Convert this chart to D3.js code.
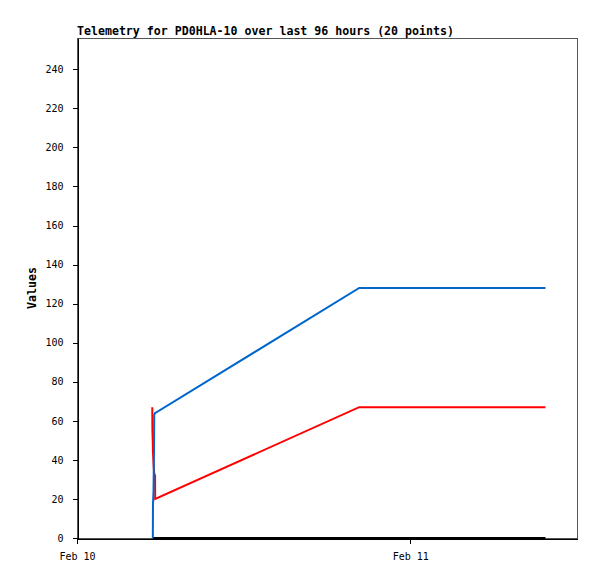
<!DOCTYPE html>
<html>
<head>
<meta charset="utf-8">
<script src="https://cdn.jsdelivr.net/npm/d3@7"></script>
<style>
  body { margin: 0; background: #fff; }
  svg { display: block; }
  .axis text { font-family: "DejaVu Sans Mono", monospace; font-size: 10px; fill: #000; }
  .axis path, .axis line { stroke: #000; shape-rendering: crispEdges; }
  .title { font-family: "DejaVu Sans Mono", monospace; font-size: 11.6px; font-weight: bold; }
  .ylabel { font-family: "DejaVu Sans Mono", monospace; font-size: 11.6px; font-weight: bold; }
</style>
</head>
<body>
<div class="graphic-wrapper"></div>
<script>
// hours since Feb 10 00:00 (UTC) for each telemetry point
let hours = [5.42, 5.43, 5.46, 5.47, 5.51, 5.55, 5.56, 5.62, 5.63, 20.32,
             22.0, 23.5, 25.0, 26.5, 28.0, 29.5, 31.0, 32.3, 33.2, 33.73];
let blueValues = [null, null, 0, 17, 24, 50, 63, 64, 64, 128,
                  128, 128, 128, 128, 128, 128, 128, 128, 128, 128];
let redValues = [67, 55, 48, 44, 38, 34, 33, 32, 20, 67,
                 67, 67, 67, 67, 67, 67, 67, 67, 67, 67];
let blackValues = [null, null, null, 0, 0, 0, 0, 0, 0, 0,
                   0, 0, 0, 0, 0, 0, 0, 0, 0, 0];
let xTicks = ["2023-02-10T00:00:00Z", "2023-02-11T00:00:00Z"];
let xTickLabels = ["Feb 10", "Feb 11"];
let yTicks = [0, 20, 40, 60, 80, 100, 120, 140, 160, 180, 200, 220, 240];
let title = "Telemetry for PD0HLA-10 over last 96 hours (20 points)";

let width = 597;
let height = 579;
let margin = {top: 38, right: 20, bottom: 41, left: 77};
let innerW = width - margin.left - margin.right;
let innerH = height - margin.top - margin.bottom;

let start = new Date("2023-02-10T00:00:00Z");
let toDate = h => new Date(start.getTime() + h * 3600 * 1000);

let scaleX = d3.scaleUtc()
  .domain([start, toDate(36)])
  .range([0, innerW]);

let scaleY = d3.scaleLinear()
  .domain([0, 256])
  .range([innerH, 0]);

let svg = d3.select(".graphic-wrapper").append("svg")
  .attr("width", width)
  .attr("height", height);

svg.append("text")
  .attr("class", "title")
  .attr("x", margin.left)
  .attr("y", 35)
  .text(title);

let vis = svg.append("g")
  .attr("transform", `translate(${margin.left}, ${margin.top})`);

// frame
vis.append("rect")
  .attr("x", 0.5)
  .attr("y", 0.5)
  .attr("width", innerW)
  .attr("height", innerH)
  .attr("fill", "none")
  .attr("stroke", "#555")
  .style("shape-rendering", "crispEdges");

let axisY = d3.axisLeft(scaleY)
  .tickValues(yTicks)
  .tickFormat(d3.format("d"))
  .tickSize(5)
  .tickSizeOuter(0)
  .tickPadding(9);

vis.append("g")
  .attr("class", "axis axis--y")
  .attr("transform", "translate(0.5, 0)")
  .call(axisY);

let axisX = d3.axisBottom(scaleX)
  .tickValues(xTicks.map(d => new Date(d)))
  .tickFormat((d, i) => xTickLabels[i])
  .tickSize(5)
  .tickSizeOuter(0)
  .tickPadding(9);

vis.append("g")
  .attr("class", "axis axis--x")
  .attr("transform", `translate(0, ${innerH + 0.5})`)
  .call(axisX);

svg.append("text")
  .attr("class", "ylabel")
  .attr("text-anchor", "middle")
  .attr("transform", `translate(36, ${margin.top + innerH / 2}) rotate(-90)`)
  .text("Values");

let line = d3.line()
  .defined(d => d.v !== null)
  .x(d => scaleX(toDate(d.h)))
  .y(d => scaleY(d.v));

let series = [
  {values: blackValues, color: "#000000"},
  {values: redValues, color: "#ff0000"},
  {values: blueValues, color: "#0066cc"}
];

vis.selectAll("path.series")
  .data(series)
  .join("path")
  .attr("class", "series")
  .attr("fill", "none")
  .attr("stroke", d => d.color)
  .attr("stroke-width", 2)
  .attr("d", d => line(hours.map((h, i) => ({h, v: d.values[i]}))));
</script>
</body>
</html>
